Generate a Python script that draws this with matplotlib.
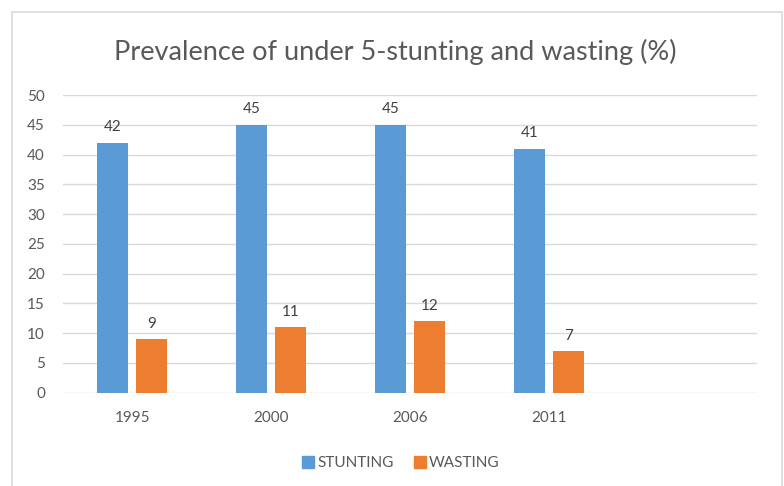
import matplotlib
matplotlib.use('Agg')
import matplotlib.pyplot as plt
from matplotlib.patches import Rectangle
import numpy as np

plt.rcParams['font.family'] = ['Lato', 'DejaVu Sans']

years = ['1995', '2000', '2006', '2011', '']
stunting = [42, 45, 45, 41]
wasting = [9, 11, 12, 7]
series_names = ['STUNTING', 'WASTING']

blue = '#5b9bd5'
orange = '#ed7d31'
grey_txt = '#595959'

fig = plt.figure(figsize=(7.84, 4.86), dpi=100)
ax = fig.add_axes([63/784, 1 - 392.7/486, (757 - 63)/784, (392.7 - 95)/486])

x = np.arange(len(stunting))
w = 0.223
off = 0.14
b1 = ax.bar(x - off, stunting, w, color=blue, zorder=3)
b2 = ax.bar(x + off, wasting, w, color=orange, zorder=3)

for bars, vals in ((b1, stunting), (b2, wasting)):
    for r, v in zip(bars, vals):
        ax.annotate(str(v), (r.get_x() + r.get_width()/2, v), xytext=(0, 6),
                    textcoords='offset points', ha='center', va='bottom',
                    fontsize=11, color='#404040')

ax.set_xlim(-0.5, len(years) - 0.5)
ax.set_ylim(0, 50)
ax.set_yticks(range(0, 51, 5))
ax.set_xticks(range(len(years)))
ax.set_xticklabels(years)
ax.yaxis.grid(True, color='#d9d9d9', linewidth=1, zorder=0)
for s in ax.spines.values():
    s.set_visible(False)
ax.tick_params(axis='both', length=0, labelsize=11, labelcolor=grey_txt)
ax.tick_params(axis='y', pad=13)
ax.tick_params(axis='x', pad=13)

fig.text(395/784, 1 - 52/486, 'Prevalence of under 5-stunting and wasting (%)',
         ha='center', va='center', fontsize=19.5, color=grey_txt)

handles = [plt.Line2D([], [], marker='s', linestyle='', color=c, markersize=8)
           for c in (blue, orange)]
fig.legend(handles, series_names, loc='center', bbox_to_anchor=(400/784, 1 - 463/486),
           ncol=2, frameon=False, fontsize=11, labelcolor=grey_txt,
           handletextpad=0.1, columnspacing=1.2, handlelength=1)

# chart area outline
fig.patches.append(Rectangle((12/784, -0.05), (782 - 12)/784, 1.05 - 12/486,
                             transform=fig.transFigure, fill=False,
                             edgecolor='#d9d9d9', linewidth=1.2))

fig.savefig('out.png', dpi=100)
